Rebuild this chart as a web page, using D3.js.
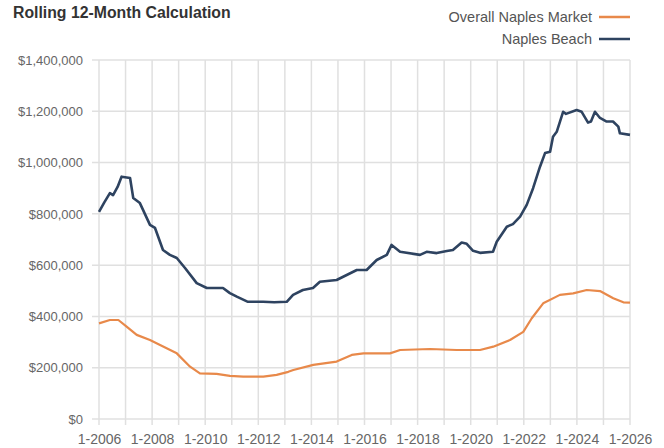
<!DOCTYPE html>
<html><head><meta charset="utf-8">
<script src="https://cdn.jsdelivr.net/npm/d3@7"></script>
<style>body{margin:0;background:#fff} svg{display:block}</style>
</head><body><svg id="c" width="664" height="448"></svg>
<script>
const title = "Rolling 12-Month Calculation";
const seriesNames = ["Overall Naples Market", "Naples Beach"];
const seriesColors = ["#e8894a", "#2e4360"];
const yTicks = [0, 200000, 400000, 600000, 800000, 1000000, 1200000, 1400000];
const xLabelYears = [2006, 2008, 2010, 2012, 2014, 2016, 2018, 2020, 2022, 2024, 2026];
const gridYears = d3.range(2006, 2027);

const beachYears = [2006.0, 2006.2, 2006.41, 2006.53, 2006.7, 2006.85, 2007.17, 2007.29, 2007.54, 2007.92, 2008.11, 2008.41, 2008.67, 2008.93, 2009.24, 2009.68, 2010.06, 2010.67, 2010.93, 2011.19, 2011.61, 2012.18, 2012.6, 2013.07, 2013.31, 2013.68, 2014.06, 2014.32, 2014.95, 2015.71, 2016.08, 2016.46, 2016.84, 2017.02, 2017.34, 2018.09, 2018.34, 2018.72, 2019.10, 2019.33, 2019.66, 2019.85, 2020.09, 2020.35, 2020.84, 2020.98, 2021.36, 2021.59, 2021.86, 2022.11, 2022.35, 2022.61, 2022.80, 2022.99, 2023.10, 2023.24, 2023.48, 2023.59, 2023.99, 2024.18, 2024.42, 2024.53, 2024.68, 2024.87, 2025.12, 2025.36, 2025.56, 2025.62, 2026.0];
const beachValues = [808000, 845000, 881000, 873000, 905000, 945000, 940000, 862000, 842000, 757000, 745000, 659000, 640000, 628000, 589000, 530000, 511000, 511000, 491000, 477000, 457000, 457000, 455000, 457000, 484000, 503000, 511000, 535000, 542000, 581000, 581000, 620000, 640000, 679000, 652000, 640000, 652000, 647000, 655000, 659000, 688000, 683000, 656000, 648000, 652000, 691000, 750000, 760000, 789000, 835000, 900000, 984000, 1037000, 1042000, 1101000, 1120000, 1198000, 1190000, 1205000, 1198000, 1156000, 1160000, 1198000, 1174000, 1160000, 1160000, 1140000, 1114000, 1108000];

const marketYears = [2006.0, 2006.41, 2006.73, 2007.04, 2007.42, 2007.92, 2008.30, 2008.93, 2009.43, 2009.80, 2010.43, 2010.93, 2011.43, 2012.19, 2012.69, 2013.13, 2013.32, 2014.07, 2014.95, 2015.52, 2015.96, 2016.96, 2017.34, 2018.47, 2019.47, 2020.35, 2020.85, 2021.48, 2021.98, 2022.30, 2022.73, 2023.36, 2023.86, 2024.37, 2024.87, 2025.37, 2025.75, 2026.0];
const marketValues = [373000, 386000, 386000, 360000, 328000, 308000, 289000, 256000, 204000, 178000, 176000, 168000, 165000, 165000, 172000, 184000, 191000, 211000, 224000, 250000, 256000, 256000, 269000, 273000, 269000, 269000, 282000, 308000, 340000, 393000, 451000, 484000, 490000, 503000, 499000, 471000, 455000, 454000];

const font = "'Liberation Sans', Arial, sans-serif";
const svg = d3.select("#c");
const x = d3.scaleLinear().domain([2006, 2026]).range([99, 630]);
const y = d3.scaleLinear().domain([0, 1400000]).range([419, 60]);

// gridlines
svg.append("g").selectAll("line").data(yTicks).join("line")
  .attr("x1", 92).attr("x2", x(2026)).attr("y1", d => y(d)).attr("y2", d => y(d))
  .attr("stroke", "#e0e0e0").attr("stroke-width", 1.5);
svg.append("g").selectAll("line").data(gridYears).join("line")
  .attr("x1", d => x(d)).attr("x2", d => x(d)).attr("y1", y(1400000)).attr("y2", y(0) + 6)
  .attr("stroke", "#e0e0e0").attr("stroke-width", 1.5);

// axes labels
const ya = svg.append("g").attr("transform", "translate(93,0)")
  .call(d3.axisLeft(y).tickValues(yTicks).tickFormat(d3.format("$,")).tickSize(0).tickPadding(10));
ya.select(".domain").remove();
ya.selectAll("text").attr("font-family", font).attr("font-size", 13).attr("fill", "#666");

const xa = svg.append("g").attr("transform", `translate(0,${y(0)})`)
  .call(d3.axisBottom(x).tickValues(xLabelYears).tickFormat(d => "1-" + d).tickSize(0).tickPadding(15));
xa.select(".domain").remove();
xa.selectAll("text").attr("font-family", font).attr("font-size", 14).attr("fill", "#666");

// lines
const line = d3.line().x(d => x(d[0])).y(d => y(d[1]));
svg.append("path").datum(d3.zip(marketYears, marketValues))
  .attr("d", line).attr("fill", "none").attr("stroke", seriesColors[0]).attr("stroke-width", 2.2).attr("stroke-linejoin", "round");
svg.append("path").datum(d3.zip(beachYears, beachValues))
  .attr("d", line).attr("fill", "none").attr("stroke", seriesColors[1]).attr("stroke-width", 2.6).attr("stroke-linejoin", "round");

// title
svg.append("text").attr("x", 13).attr("y", 18).text(title)
  .attr("font-family", font).attr("font-weight", "bold").attr("font-size", 15.8).attr("fill", "#333");

// legend
const lg = svg.append("g").selectAll("g").data(seriesNames).join("g")
  .attr("transform", (d, i) => `translate(0,${17 + i * 22})`);
lg.append("text").attr("x", 592).attr("y", 5).attr("text-anchor", "end").text(d => d)
  .attr("font-family", font).attr("font-size", 14.5).attr("fill", "#555");
lg.append("line").attr("x1", 599).attr("x2", 630).attr("y1", 0).attr("y2", 0)
  .attr("stroke", (d, i) => seriesColors[i]).attr("stroke-width", 2.5);
</script></body></html>
